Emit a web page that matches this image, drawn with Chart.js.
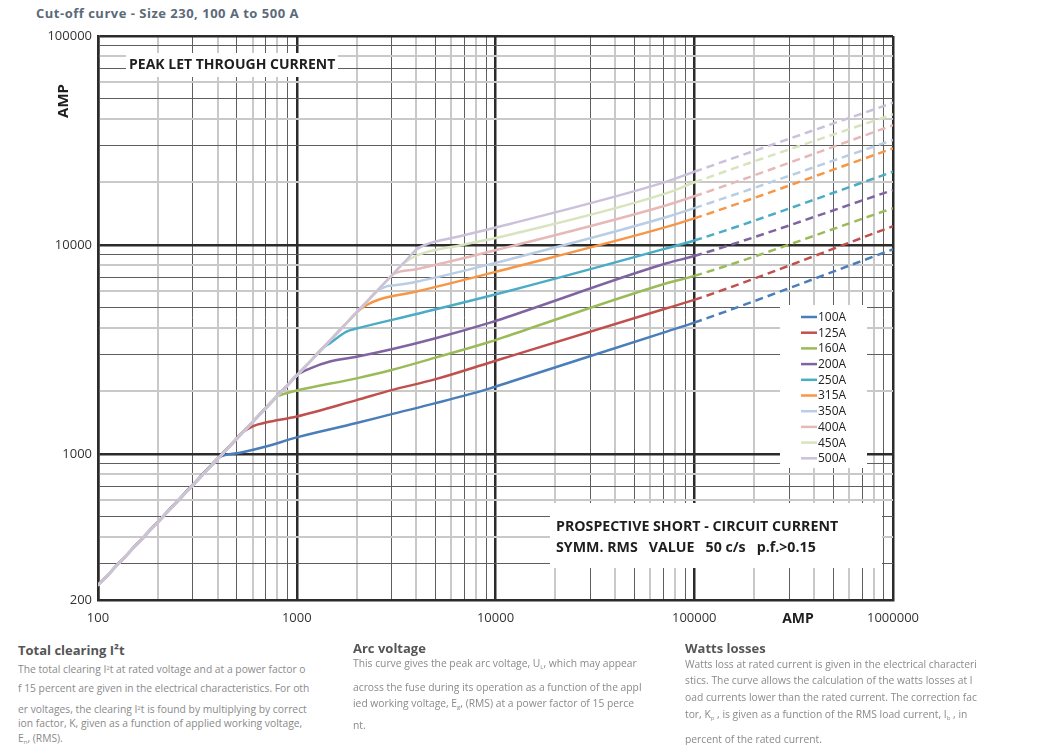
<!DOCTYPE html>
<html>
<head>
<meta charset="utf-8">
<script src="https://cdn.jsdelivr.net/npm/chart.js@4.4.1/dist/chart.umd.min.js"></script>
<style>
  body { margin: 0; background: #fff; width: 1039px; height: 745px; overflow: hidden; position: relative; font-family: "Open Sans", sans-serif; }
  #title { position: absolute; left: 36px; top: 4px; font-size: 13px; letter-spacing: 0.5px; font-weight: bold; color: #5b6a7a; white-space: nowrap; }
  #wrap { position: absolute; left: 0; top: 0; width: 1039px; height: 640px; }
  .head { position: absolute; font-size: 13px; font-weight: bold; color: #555; line-height: 16px; white-space: nowrap; }
  .ln { position: absolute; font-size: 10.3px; color: #8a8a8a; line-height: 14px; white-space: nowrap; }
  .ln sub { font-size: 6px; vertical-align: -2px; }
  .ln sup { font-size: 6px; vertical-align: 3px; }
</style>
</head>
<body>
<div id="title">Cut-off curve - Size 230, 100 A to 500 A</div>
<div id="wrap"><canvas id="cutoffChart"></canvas></div>

<div class="head" style="left:18px; top:642px;">Total clearing I²t</div>
<div class="ln" style="left:18px; top:661px;">The total clearing I<sup>2</sup>t at rated voltage and at a power factor o</div>
<div class="ln" style="left:18px; top:681px;">f 15 percent are given in the electrical characteristics. For oth</div>
<div class="ln" style="left:18px; top:701px;">er voltages, the clearing I<sup>2</sup>t is found by multiplying by correct</div>
<div class="ln" style="left:18px; top:716px;">ion factor, K, given as a function of applied working voltage,</div>
<div class="ln" style="left:18px; top:731px;">E<sub>n</sub>, (RMS).</div>

<div class="head" style="left:353px; top:640px;">Arc voltage</div>
<div class="ln" style="left:353px; top:656px;">This curve gives the peak arc voltage, U<sub>L</sub>, which may appear</div>
<div class="ln" style="left:353px; top:680px;">across the fuse during its operation as a function of the appl</div>
<div class="ln" style="left:353px; top:696px;">ied working voltage, E<sub>g</sub>, (RMS) at a power factor of 15 perce</div>
<div class="ln" style="left:353px; top:718px;">nt.</div>

<div class="head" style="left:685px; top:640px;">Watts losses</div>
<div class="ln" style="left:685px; top:657px;">Watts loss at rated current is given in the electrical characteri</div>
<div class="ln" style="left:685px; top:673px;">stics. The curve allows the calculation of the watts losses at l</div>
<div class="ln" style="left:685px; top:690px;">oad currents lower than the rated current. The correction fac</div>
<div class="ln" style="left:685px; top:707px;">tor, K<sub>p</sub> , is given as a function of the RMS load current, I<sub>b</sub> , in</div>
<div class="ln" style="left:685px; top:732px;">percent of the rated current.</div>

<script>
// fuse ratings
var ratings = ['100A', '125A', '160A', '200A', '250A', '315A', '350A', '400A', '450A', '500A'];

// prospective current (A) / peak let-through current (A)
var x100A = [100, 360, 400, 430, 510, 700, 1000, 2000, 3000, 5000, 9400, 11800, 72600, 100000, 1000000];
var y100A = [235, 857, 952, 985, 1010, 1085, 1200, 1405, 1550, 1750, 2060, 2210, 3850, 4250, 9530];

var x125A = [100, 480, 530, 604, 700, 1000, 2000, 3000, 5000, 9400, 11800, 72600, 100000, 1000000];
var y125A = [235, 1142, 1261, 1360, 1413, 1510, 1810, 2020, 2280, 2740, 2930, 4980, 5460, 12300];

var x160A = [100, 710, 790, 824, 1000, 2000, 3000, 5000, 9400, 11800, 72600, 100000, 1000000];
var y160A = [235, 1690, 1880, 1910, 2010, 2300, 2520, 2890, 3440, 3700, 6560, 7110, 15000];

var x200A = [100, 900, 1000, 1170, 1470, 2000, 3000, 5000, 9400, 11800, 72600, 100000, 1000000];
var y200A = [235, 2142, 2380, 2570, 2770, 2920, 3170, 3580, 4250, 4560, 8170, 8850, 18300];

var x250A = [100, 1220, 1350, 1470, 1780, 2000, 4000, 11800, 72600, 100000, 1000000];
var y250A = [235, 2900, 3213, 3390, 3850, 3980, 4670, 6040, 9640, 10500, 22400];

var x315A = [100, 1800, 2000, 2250, 2620, 4010, 11800, 72600, 100000, 1000000];
var y315A = [235, 4284, 4760, 5160, 5500, 5990, 7740, 12200, 13400, 29000];

var x350A = [100, 2250, 2500, 2850, 3250, 4010, 11800, 72600, 100000, 1000000];
var y350A = [235, 5355, 5950, 6350, 6450, 6670, 8550, 13600, 15000, 31800];

var x400A = [100, 2650, 2950, 3120, 4010, 11800, 72600, 100000, 1000000];
var y400A = [235, 6307, 7021, 7330, 7660, 9820, 15500, 17100, 37400];

var x450A = [100, 3060, 3400, 4090, 6800, 11800, 72600, 100000, 1000000];
var y450A = [235, 7283, 8092, 8960, 10000, 11200, 17700, 19900, 42200];

var x500A = [100, 3600, 4000, 4410, 6620, 11800, 72600, 100000, 1000000];
var y500A = [235, 8568, 9520, 10000, 11000, 12600, 20100, 22400, 47900];

// axis tick labels
var xTickLabels = [100, 1000, 10000, 100000, 1000000];
var yTickLabels = [200, 1000, 10000, 100000];

var peakLabel = 'PEAK LET THROUGH CURRENT';
var prospectiveLines = ['PROSPECTIVE SHORT - CIRCUIT CURRENT', 'SYMM. RMS   VALUE   50 c/s   p.f.>0.15'];
var axisTitle = 'AMP';

var seriesX = [x100A, x125A, x160A, x200A, x250A, x315A, x350A, x400A, x450A, x500A];
var seriesY = [y100A, y125A, y160A, y200A, y250A, y315A, y350A, y400A, y450A, y500A];
var lineColors = ['#4a7ebb', '#c0504d', '#9bbb59', '#8064a2', '#4bacc6', '#f79646', '#b9cde5', '#e6b9b8', '#d7e4bd', '#ccc1da'];

// log paper grid: 1..9 x 10^n
function logGrid(min, max) {
    var out = [];
    for (var e = 0; e < 7; e++) {
        for (var m = 1; m < 10; m++) {
            var v = m * Math.pow(10, e);
            if (v >= min && v <= max) out.push(v);
        }
    }
    return out;
}

function mantissa(v) {
    var e = Math.floor(Math.log10(v) + 1e-9);
    return Math.round(v / Math.pow(10, e));
}
function gridColor(ctx) {
    var m = mantissa(ctx.tick.value);
    if (m === 1) return '#2b2b2b';
    return m % 2 === 1 ? '#5e5e5e' : '#c9c9c9';
}
function gridWidth(ctx) {
    var m = mantissa(ctx.tick.value);
    if (m === 1) return 2.5;
    return m % 2 === 1 ? 1 : 2;
}

var annotations = {
    id: 'annotations',
    beforeDatasetsDraw: function(chart) {
        var c = chart.ctx;
        c.save();
        c.fillStyle = '#fff';
        c.fillRect(126, 53, 212, 24);
        c.fillRect(550, 503, 332, 65);
        c.fillStyle = '#1e1e1e';
        c.textBaseline = 'middle';
        c.font = 'bold 14px "Open Sans"';
        c.fillText(peakLabel, 129, 65.5);
        c.font = 'bold 14.2px "Open Sans"';
        c.fillText(prospectiveLines[0], 556, 526.5);
        c.fillText(prospectiveLines[1], 556, 547.5);
        c.restore();
    },
    afterDatasetsDraw: function(chart) {
        var c = chart.ctx;
        c.save();
        // legend
        c.fillStyle = '#fff';
        c.fillRect(780, 305, 87, 163);
        c.font = '12px "Open Sans"';
        c.textBaseline = 'middle';
        chart.data.datasets.forEach(function(ds, i) {
            var y = 317 + i * 15.7;
            c.strokeStyle = ds.borderColor;
            c.lineWidth = 2.5;
            c.beginPath();
            c.moveTo(801, y);
            c.lineTo(817, y);
            c.stroke();
            c.fillStyle = '#222';
            c.fillText(ds.label, 818, y + 0.5);
        });
        // axis titles
        c.fillStyle = '#1e1e1e';
        c.font = 'bold 14px "Open Sans"';
        c.textAlign = 'center';
        c.fillText(axisTitle, 798, 619);
        c.translate(64, 101);
        c.rotate(-Math.PI / 2);
        c.font = 'bold 15px "Open Sans"';
        c.fillText(axisTitle, 0, 0);
        c.restore();
    }
};

document.addEventListener("DOMContentLoaded", function() {
    var datasets = ratings.map(function(r, i) {
        return {
            label: r,
            data: seriesX[i].map(function(x, j) { return { x: x, y: seriesY[i][j] }; }),
            borderColor: lineColors[i],
            backgroundColor: lineColors[i],
            borderWidth: 2.5,
            pointRadius: 0,
            cubicInterpolationMode: 'monotone',
            order: ratings.length - 1 - i,
            segment: {
                borderDash: function(ctx) { return ctx.p0.parsed.x >= 100000 ? [8, 5] : undefined; }
            }
        };
    });

    var ctx = document.getElementById('cutoffChart').getContext('2d');
    new Chart(ctx, {
        type: 'line',
        data: { datasets: datasets },
        plugins: [annotations],
        options: {
            responsive: true,
            maintainAspectRatio: false,
            animation: false,
            layout: { padding: { top: 36, right: 146, bottom: 10, left: 0 } },
            plugins: {
                legend: { display: false },
                tooltip: { enabled: false }
            },
            scales: {
                x: {
                    type: 'logarithmic',
                    min: 100,
                    max: 1000000,
                    afterBuildTicks: function(s) { s.ticks = logGrid(100, 1000000).map(function(v) { return { value: v }; }); },
                    afterFit: function(s) { s.height = 30; },
                    grid: { color: gridColor, lineWidth: gridWidth, drawTicks: false },
                    border: { color: '#2b2b2b', width: 2.5 },
                    ticks: {
                        autoSkip: false,
                        maxRotation: 0,
                        padding: 10,
                        color: '#333',
                        font: { size: 13, family: "'Open Sans', sans-serif" },
                        callback: function(v) { return xTickLabels.indexOf(v) >= 0 ? String(v) : ''; }
                    }
                },
                y: {
                    type: 'logarithmic',
                    min: 200,
                    max: 100000,
                    afterBuildTicks: function(s) { s.ticks = logGrid(200, 100000).map(function(v) { return { value: v }; }); },
                    afterFit: function(s) { s.width = 98; },
                    grid: { color: gridColor, lineWidth: gridWidth, drawTicks: false },
                    border: { color: '#2b2b2b', width: 2.5 },
                    ticks: {
                        autoSkip: false,
                        padding: 6,
                        color: '#333',
                        font: { size: 13, family: "'Open Sans', sans-serif" },
                        callback: function(v) { return yTickLabels.indexOf(v) >= 0 ? String(v) : ''; }
                    }
                }
            }
        }
    });
});
</script>
</body>
</html>
